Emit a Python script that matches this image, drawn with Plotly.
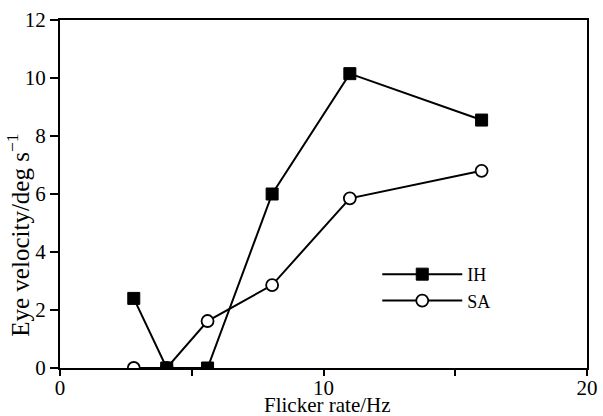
import plotly.graph_objects as go

# Data
ih_x = [2.8, 4.05, 5.6, 8.05, 11.0, 16.0]
ih_y = [2.4, 0.0, 0.0, 6.0, 10.15, 8.55]
sa_x = [2.8, 4.05, 5.6, 8.05, 11.0, 16.0]
sa_y = [0.0, 0.0, 1.62, 2.86, 5.85, 6.8]

x_ticks = [0, 10, 20]
x_minor_ticks = [0, 5, 10, 15, 20]
y_ticks = [0, 2, 4, 6, 8, 10, 12]

x_title = "Flicker rate/Hz"
y_title = "Eye velocity/deg s<sup>−1</sup>"

FONT = "Liberation Serif, Times New Roman, serif"

fig = go.Figure()
fig.add_trace(go.Scatter(
    x=sa_x, y=sa_y, name="SA", mode="lines+markers",
    line=dict(color="black", width=2),
    marker=dict(symbol="circle", size=12, color="white",
                line=dict(color="black", width=1.8)),
))
fig.add_trace(go.Scatter(
    x=ih_x, y=ih_y, name="IH", mode="lines+markers",
    line=dict(color="black", width=2),
    marker=dict(symbol="square", size=12, color="black",
                line=dict(color="black", width=1)),
))

fig.update_layout(
    width=603, height=416,
    margin=dict(l=60, r=16, t=20, b=48),
    paper_bgcolor="white", plot_bgcolor="white",
    font=dict(family=FONT, size=20, color="black"),
    legend=dict(
        x=0.602, y=0.322, xanchor="left", yanchor="top",
        traceorder="reversed", bgcolor="rgba(0,0,0,0)",
        font=dict(family=FONT, size=18, color="black"),
        tracegroupgap=0, itemwidth=80,
    ),
    xaxis=dict(
        range=[0, 20], tickvals=x_ticks, ticktext=[str(v) for v in x_ticks],
        showline=True, linecolor="black", linewidth=2, mirror=True,
        ticks="", showgrid=False, zeroline=False, automargin=False,
        minor=dict(tickvals=x_minor_ticks, ticks="outside", ticklen=6,
                   tickwidth=2, tickcolor="black", showgrid=False),
        tickfont=dict(family=FONT, size=21),
    ),
    yaxis=dict(
        range=[0, 12], tickvals=y_ticks, ticktext=[str(v) for v in y_ticks],
        showline=True, linecolor="black", linewidth=2, mirror=True,
        ticks="outside", ticklen=8, tickwidth=2, tickcolor="black",
        showgrid=False, zeroline=False, automargin=False,
        tickfont=dict(family=FONT, size=21),
    ),
    annotations=[
        dict(text=x_title, x=0.508, xref="paper", y=0, yref="paper",
             xanchor="center", yanchor="middle", yshift=-37, showarrow=False,
             font=dict(family=FONT, size=21, color="black")),
        dict(text=y_title, x=0, xref="paper", y=0.38, yref="paper",
             xanchor="center", yanchor="middle", xshift=-42, showarrow=False,
             textangle=-90, font=dict(family=FONT, size=25, color="black")),
    ],
)

fig.write_html(
    "out.html",
    config={"displayModeBar": False},
    post_script="document.body.style.margin='0';document.body.style.overflow='hidden';",
)
